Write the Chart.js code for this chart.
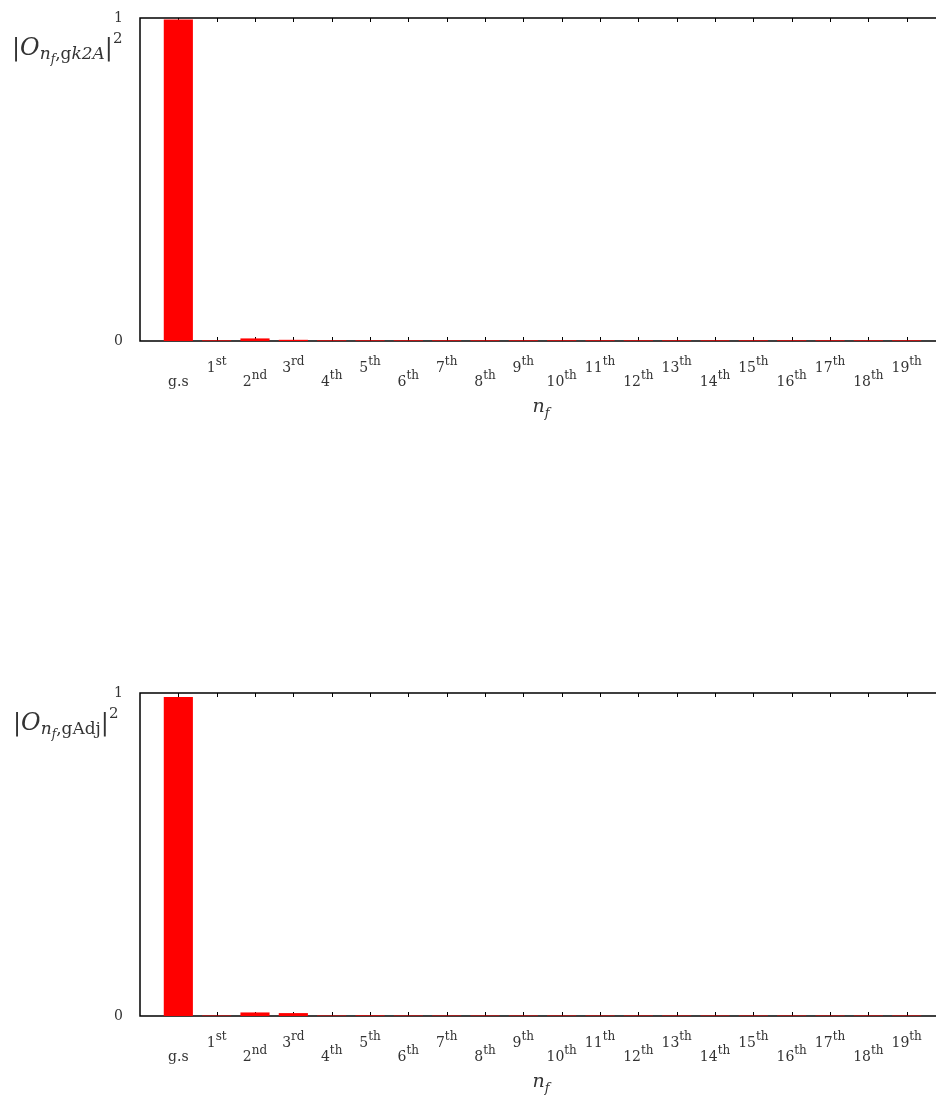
<!DOCTYPE html>
<html>
<head>
<meta charset="utf-8">
<script src="https://cdn.jsdelivr.net/npm/chart.js@4"></script>
<style>
  html, body { margin: 0; padding: 0; width: 936px; height: 1095px; overflow: hidden; background: #fff; }
  .panel { position: absolute; left: 0; width: 950px; height: 430px; }
</style>
</head>
<body>
<div class="panel" style="top:0"><canvas id="c1" width="950" height="430"></canvas></div>
<div class="panel" style="top:675px"><canvas id="c2" width="950" height="430"></canvas></div>
<script>
// final states on the x axis
const states = ["g.s", "1st", "2nd", "3rd", "4th", "5th", "6th", "7th", "8th", "9th",
  "10th", "11th", "12th", "13th", "14th", "15th", "16th", "17th", "18th", "19th"];

// overlaps |O|^2
const overlapK2A = [0.995, 0.002, 0.008, 0.0037, 0.002, 0.002, 0.002, 0.002, 0.002, 0.002,
  0.002, 0.002, 0.002, 0.002, 0.002, 0.002, 0.002, 0.002, 0.002, 0.002];
const overlapAdj = [0.988, 0.0015, 0.011, 0.009, 0.0015, 0.002, 0.0015, 0.0015, 0.0015, 0.0015,
  0.0015, 0.0015, 0.0015, 0.0015, 0.0015, 0.0015, 0.0015, 0.0015, 0.0015, 0.0015];

const yTicks = [0, 1];

const FONT = '"DejaVu Serif", serif';

// draw text pieces with sub/superscripts: [text, size, dy, italic]
function drawRich(ctx, x, y, parts, center) {
  const fontOf = (p) => (p[3] ? 'italic ' : '') + p[1] + 'px ' + FONT;
  if (center) {
    let w = 0;
    parts.forEach(p => { ctx.font = fontOf(p); w += ctx.measureText(p[0]).width; });
    x -= w / 2;
  }
  parts.forEach(p => {
    ctx.font = fontOf(p);
    ctx.fillText(p[0], x, y + p[2]);
    x += ctx.measureText(p[0]).width;
  });
}

const frame = {
  id: 'frame',
  beforeDatasetsDraw(chart) {
    const { ctx, chartArea: a, scales: { x } } = chart;
    ctx.save();
    ctx.strokeStyle = '#000';
    ctx.lineWidth = 1.5;
    ctx.beginPath();
    ctx.moveTo(a.right, a.top);
    ctx.lineTo(a.left, a.top);
    ctx.lineTo(a.left, a.bottom);
    ctx.lineTo(a.right, a.bottom);
    ctx.stroke();
    ctx.lineWidth = 1;
    ctx.beginPath();
    states.forEach((s, i) => {
      const px = Math.round(x.getPixelForValue(i)) + 0.5;
      ctx.moveTo(px, a.bottom); ctx.lineTo(px, a.bottom - 4);
      ctx.moveTo(px, a.top); ctx.lineTo(px, a.top + 4);
    });
    ctx.stroke();
    ctx.restore();
  },
  afterDraw(chart, args, opts) {
    const { ctx, chartArea: a, scales: { x } } = chart;
    ctx.save();
    ctx.fillStyle = '#333';
    ctx.textBaseline = 'alphabetic';
    // x tick labels, staggered, with ordinal superscripts
    states.forEach((s, i) => {
      const m = s.match(/^(\d+)(\D+)$/);
      const parts = m ? [[m[1], 14, 0, false], [m[2], 12, -7, false]] : [[s, 14, 0, false]];
      drawRich(ctx, x.getPixelForValue(i), a.bottom + (i % 2 ? 31 : 45), parts, true);
    });
    drawRich(ctx, opts.titleX, a.top + 37, opts.yTitle, false);
    drawRich(ctx, 541, a.bottom + 71, [['n', 19, 0, true], ['f', 13, 5, true]], true);
    ctx.restore();
  }
};

function makeChart(id, values, yTitle, titleX) {
  return new Chart(document.getElementById(id), {
    type: 'bar',
    data: {
      datasets: [{
        data: values.map((v, i) => ({ x: i, y: v })),
        backgroundColor: '#ff0000',
        borderWidth: 0,
        categoryPercentage: 1,
        barPercentage: 0.76
      }]
    },
    plugins: [frame],
    options: {
      responsive: false,
      animation: false,
      layout: { padding: { top: 18, right: 5, bottom: 29, left: 0 } },
      plugins: {
        legend: { display: false },
        tooltip: { enabled: false },
        frame: { yTitle, titleX }
      },
      scales: {
        x: {
          type: 'linear',
          min: -1,
          max: 20,
          offset: false,
          grid: { display: false, drawTicks: false },
          border: { display: false },
          afterFit: (s) => { s.height = 60; },
          ticks: { display: false, stepSize: 1 }
        },
        y: {
          min: 0,
          max: 1,
          grid: { display: false, drawTicks: false },
          border: { display: false },
          afterFit: (s) => { s.width = 140; s.paddingTop = 0; s.paddingBottom = 0; },
          afterBuildTicks: (s) => { s.ticks = yTicks.map(v => ({ value: v })); },
          ticks: {
            padding: 17,
            color: '#333',
            font: { family: FONT, size: 14 }
          }
        }
      }
    }
  });
}

makeChart('c1', overlapK2A, [
  ['|', 24, 0, false], ['O', 24, 0, true], ['n', 17, 4, true], ['f', 12, 8, true],
  [',', 17, 4, false], ['g', 17, 4, false], ['k2A', 17, 4, true], ['|', 24, 0, false], ['2', 15, -12, false]
], 12);
makeChart('c2', overlapAdj, [
  ['|', 24, 0, false], ['O', 24, 0, true], ['n', 17, 4, true], ['f', 12, 8, true],
  [',', 17, 4, false], ['g', 17, 4, false], ['Adj', 17, 4, false], ['|', 24, 0, false], ['2', 15, -12, false]
], 13);
</script>
</body>
</html>
